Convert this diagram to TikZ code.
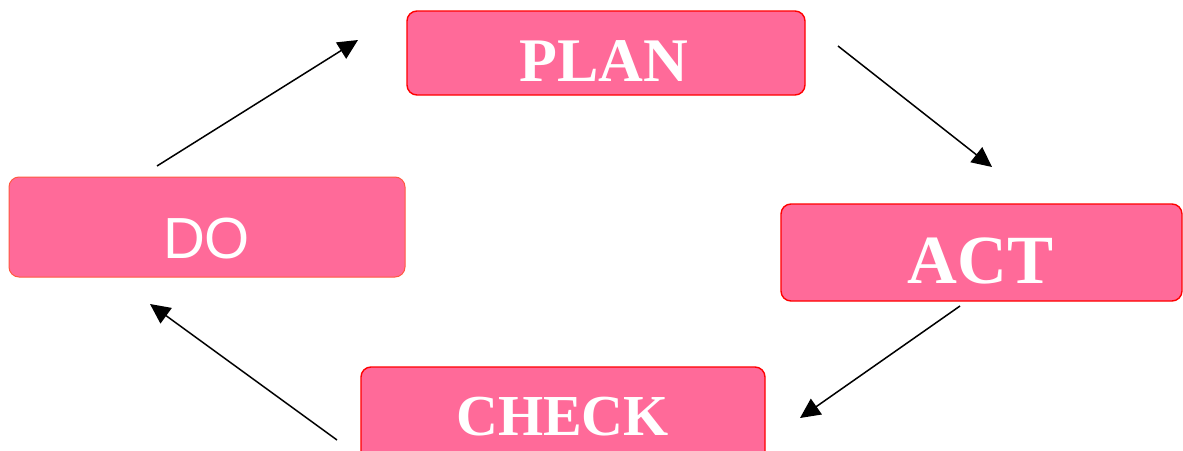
\documentclass[tikz,border=0pt]{standalone}
\usepackage{fontspec}
\setmainfont{Liberation Serif}
\newfontfamily\dofont{Liberation Sans}
\usetikzlibrary{arrows.meta}
\definecolor{boxpink}{HTML}{FF6A99}
\definecolor{doedge}{HTML}{FF5A40}
\tikzset{
  pdcabox/.style={draw=red, line width=1.4pt, fill=boxpink, rounded corners=10pt, inner sep=0pt},
  pdcatext/.style={text=white, font=\bfseries, anchor=base, inner sep=0pt},
  cyclearrow/.style={line width=1.5pt, -{Triangle[length=20pt,width=19pt]}}
}
\begin{document}
\begin{tikzpicture}[x=1pt,y=-1pt]
\useasboundingbox (0,0) rectangle (1183,450);
\clip (0,0) rectangle (1183,450);
\fill[white] (0,0) rectangle (1183,450);
% boxes
\node[pdcabox, minimum width=398pt, minimum height=84pt] (plan) at (606,53) {};
\node[pdcabox, minimum width=401pt, minimum height=97pt] (act) at (981.5,252.5) {};
\node[pdcabox, minimum width=404pt, minimum height=100pt] (check) at (563,417) {};
\node[pdcabox, draw=doedge, line width=1pt, minimum width=396pt, minimum height=100pt] (do) at (207,227) {};
% texts
\node[pdcatext, font=\bfseries\fontsize{62}{62}\selectfont] (plantext) at (604,81) {PLAN};
\node[pdcatext, font=\bfseries\fontsize{69}{69}\selectfont] (acttext) at (980.5,283) {ACT};
\node[pdcatext, font=\bfseries\fontsize{58}{58}\selectfont] (checktext) at (562.5,435) {CHECK};
\node[pdcatext, font=\dofont\fontsize{58}{58}\selectfont] (dotext) at (206.5,258) {DO};
% arrow end points
\coordinate (a1s) at (157,166);
\coordinate (a1e) at (358,40);
\coordinate (a2s) at (838,46);
\coordinate (a2e) at (992,167);
\coordinate (a3s) at (960,306);
\coordinate (a3e) at (800,418);
\coordinate (a4s) at (337,440);
\coordinate (a4e) at (150,304);
\draw[cyclearrow] (a1s) -- (a1e);
\draw[cyclearrow] (a2s) -- (a2e);
\draw[cyclearrow] (a3s) -- (a3e);
\draw[cyclearrow] (a4s) -- (a4e);
\end{tikzpicture}
\end{document}
